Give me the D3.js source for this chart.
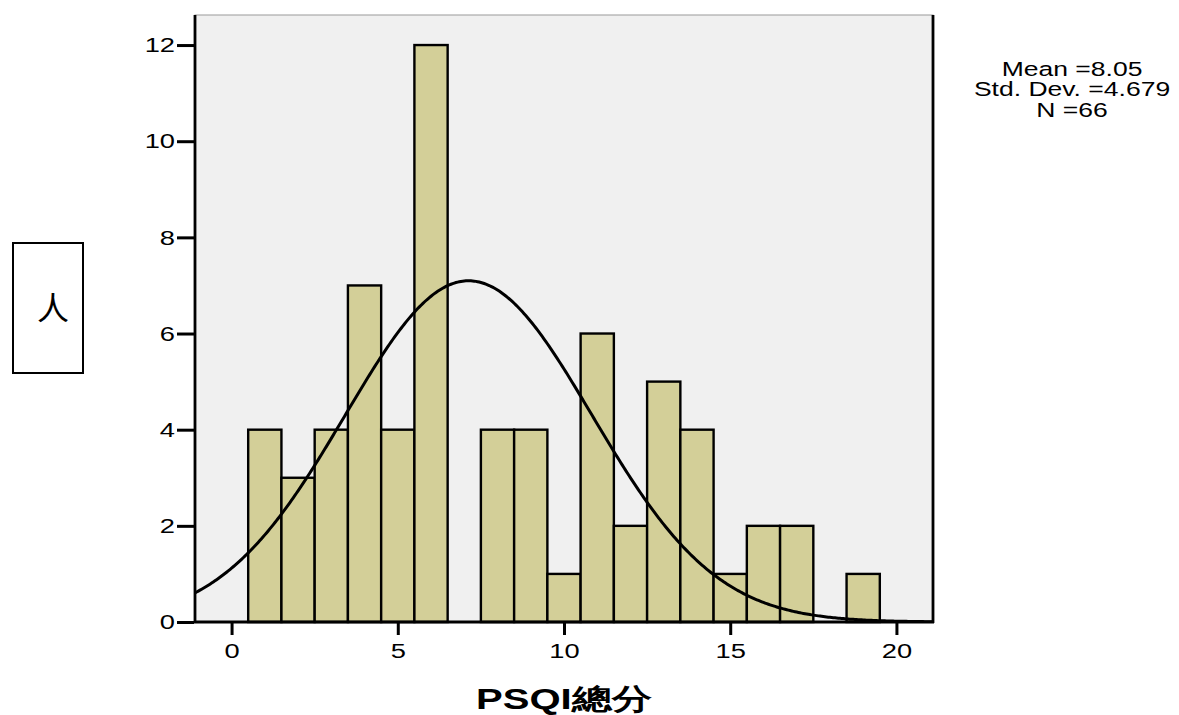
<!DOCTYPE html>
<html>
<head>
<meta charset="utf-8">
<script src="https://cdn.jsdelivr.net/npm/d3@7"></script>
<style>
  body { margin: 0; background: #fff; }
  text { font-family: Arial, "Liberation Sans", sans-serif; }
</style>
</head>
<body>
<script>
// histogram data: score bins and counts
var binCenters = [1, 2, 3, 4, 5, 6, 7, 8, 9, 10, 11, 12, 13, 14, 15, 16, 17, 18, 19];
var binCounts  = [4, 3, 4, 7, 4, 12, 0, 4, 4, 1, 6, 2, 5, 4, 1, 2, 2, 0, 1];
var xTicks = [0, 5, 10, 15, 20];
var yTicks = [0, 2, 4, 6, 8, 10, 12];
var statLines = ["Mean =8.05", "Std. Dev. =4.679", "N =66"];
// normal curve as drawn
var curveMean = 7.13;
var curveSd = 3.71;
var curveN = 66;

// layout magic numbers
var w = 1179, h = 715;
var plotLeft = 195, plotRight = 933, plotTop = 15, plotBottom = 622;
var stretch = 1.3;   // text in the original is wider than normal

var svg = d3.select("body").append("svg")
    .attr("width", w)
    .attr("height", h);

var x = d3.scaleLinear().domain([-1.1, 21.1]).range([plotLeft, plotRight]);
var y = d3.scaleLinear().domain([0, 12.625]).range([plotBottom, plotTop]);

// plot background
svg.append("rect")
    .attr("x", plotLeft).attr("y", plotTop)
    .attr("width", plotRight - plotLeft).attr("height", plotBottom - plotTop)
    .attr("fill", "#f0f0f0")
    .attr("stroke", "#999").attr("stroke-width", 1);

// bars
svg.append("g").selectAll("rect")
    .data(binCenters.map(function(c, i){ return {c: c, n: binCounts[i]}; })
                    .filter(function(d){ return d.n > 0; }))
    .enter().append("rect")
    .attr("x", function(d){ return x(d.c - 0.5); })
    .attr("y", function(d){ return y(d.n); })
    .attr("width", function(d){ return x(d.c + 0.5) - x(d.c - 0.5); })
    .attr("height", function(d){ return y(0) - y(d.n); })
    .attr("fill", "#d3cf98")
    .attr("stroke", "#000")
    .attr("stroke-width", 2.4);

// normal curve
var curvePts = d3.range(-1.1, 21.11, 0.05).map(function(v){
    var z = (v - curveMean) / curveSd;
    return [v, curveN / (curveSd * Math.sqrt(2 * Math.PI)) * Math.exp(-0.5 * z * z)];
});
svg.append("clipPath").attr("id", "clip")
  .append("rect")
    .attr("x", plotLeft).attr("y", plotTop)
    .attr("width", plotRight - plotLeft).attr("height", plotBottom - plotTop);
svg.append("path")
    .datum(curvePts)
    .attr("clip-path", "url(#clip)")
    .attr("fill", "none")
    .attr("stroke", "#000")
    .attr("stroke-width", 3)
    .attr("d", d3.line().x(function(d){ return x(d[0]); }).y(function(d){ return y(d[1]); }));

// frame lines (left, right, bottom)
var frame = svg.append("g").attr("stroke", "#000").attr("stroke-width", 2.8);
frame.append("line").attr("x1", plotLeft).attr("x2", plotLeft).attr("y1", plotTop).attr("y2", plotBottom + 1);
frame.append("line").attr("x1", plotRight).attr("x2", plotRight).attr("y1", plotTop).attr("y2", plotBottom + 1);
frame.append("line").attr("x1", plotLeft - 1).attr("x2", plotRight + 1).attr("y1", plotBottom).attr("y2", plotBottom);

// y axis
var yAxis = svg.append("g")
    .attr("transform", "translate(" + (plotLeft - 1) + ",0)")
    .call(d3.axisLeft(y).tickValues(yTicks).tickSize(17).tickPadding(2));
yAxis.select(".domain").remove();
yAxis.selectAll(".tick line").attr("stroke-width", 3);
yAxis.selectAll(".tick text")
    .attr("x", 0)
    .attr("transform", "translate(-19,0) scale(" + stretch + ",1)")
    .attr("font-size", 21)
    .attr("fill", "#000");

// x axis
var xAxis = svg.append("g")
    .attr("transform", "translate(0," + (plotBottom + 1) + ")")
    .call(d3.axisBottom(x).tickValues(xTicks).tickSize(12).tickPadding(8));
xAxis.select(".domain").remove();
xAxis.selectAll(".tick line").attr("stroke-width", 3);
xAxis.selectAll(".tick text")
    .attr("transform", "scale(" + stretch + ",1)")
    .attr("font-size", 21)
    .attr("fill", "#000");

// x axis title
svg.append("text")
    .attr("transform", "translate(564,709) scale(1.38,1)")
    .attr("text-anchor", "middle")
    .attr("font-size", 29)
    .attr("font-weight", "bold")
    .text("PSQI總分");

// y axis title in a box
svg.append("rect")
    .attr("x", 13).attr("y", 243).attr("width", 70).attr("height", 130)
    .attr("fill", "#fff").attr("stroke", "#000").attr("stroke-width", 2);
svg.append("text")
    .attr("x", 53).attr("y", 320)
    .attr("text-anchor", "middle")
    .attr("font-size", 32)
    .style("font-family", "'Noto Sans CJK TC', sans-serif")
    .text("人");

// stats
svg.append("g").selectAll("text")
    .data(statLines)
    .enter().append("text")
    .attr("transform", function(d, i){ return "translate(1072," + (76 + i * 20.3) + ") scale(1.36,1)"; })
    .attr("text-anchor", "middle")
    .attr("font-size", 19.5)
    .text(function(d){ return d; });
</script>
</body>
</html>
